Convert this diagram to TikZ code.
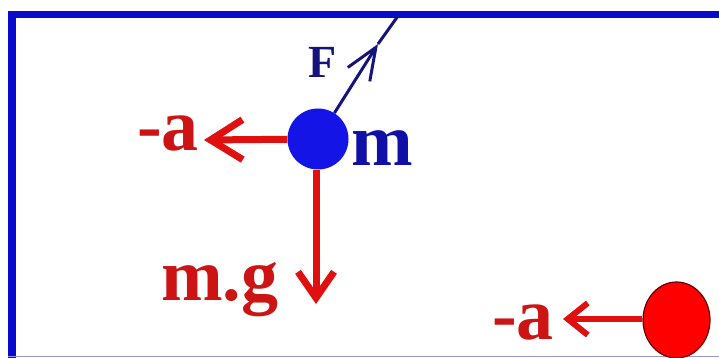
\documentclass[tikz,border=0pt]{standalone}
\usepackage{fontspec}
\setmainfont{Liberation Serif}
\usetikzlibrary{arrows.meta,shapes.geometric}
\definecolor{frameblue}{HTML}{0A0ACC}
\definecolor{ballblue}{HTML}{1414E6}
\definecolor{arrred}{HTML}{E01010}
\definecolor{txtred}{HTML}{CC1414}
\definecolor{mblue}{HTML}{1010A8}
\definecolor{fnavy}{HTML}{14147A}
\tikzset{
  bigtxt/.style={inner sep=0pt, font=\fontsize{74}{74}\selectfont\bfseries},
  smalltxt/.style={inner sep=0pt, font=\fontsize{46}{46}\selectfont\bfseries},
  force/.style={draw=arrred, line width=7pt},
}
\begin{document}
\begin{tikzpicture}[x=1pt,y=-1pt]
\useasboundingbox[fill=white] (0,0) rectangle (719,358);
% frame
\draw[frameblue, line width=7pt] (8,15) -- (719,15);
\draw[frameblue, line width=8pt] (12,11) -- (12,358);
\draw[black!40!blue!40, line width=1.5pt] (8,356.5) -- (719,356.5);
% balls
\node[circle, fill=ballblue, minimum size=61pt, inner sep=0pt] (m) at (318,139) {};
\node[ellipse, fill=red, draw=red!40!black, line width=1.2pt, minimum width=67pt, minimum height=76pt, inner sep=0pt] (r) at (676.5,320) {};
% force F
\coordinate (Ftip) at (378,44);
\coordinate (Fend) at (398,16);
\draw[fnavy, line width=3pt, -{Straight Barb[length=32pt,width=26pt]}] (m) -- (Ftip);
\draw[fnavy, line width=3pt] (Ftip) -- (Fend);
\node[smalltxt, text=fnavy, anchor=base west] (F) at (308,78) {F};
% -a on m
\coordinate (a1tip) at (204,140);
\draw[force, -{Straight Barb[length=32pt,width=40pt]}] (m) -- (a1tip);
\node[bigtxt, text=txtred, anchor=base east] (a1) at (199,151) {-a};
% weight
\coordinate (gtip) at (316,304);
\draw[force, -{Straight Barb[length=26pt,width=36pt]}] (m.south -| gtip) -- (gtip);
\node[bigtxt, text=txtred, anchor=base west] (mg) at (161,300) {m.g};
% label m
\node[bigtxt, text=mblue, anchor=base west] (mlab) at (351,165) {m};
% -a on red ball
\coordinate (a2tip) at (563,319);
\draw[draw=arrred, line width=6pt, -{Straight Barb[length=20pt,width=32pt]}] (r.west |- a2tip) -- (a2tip);
\node[bigtxt, text=txtred, anchor=base east] (a2) at (554,339) {-a};
\end{tikzpicture}
\end{document}
